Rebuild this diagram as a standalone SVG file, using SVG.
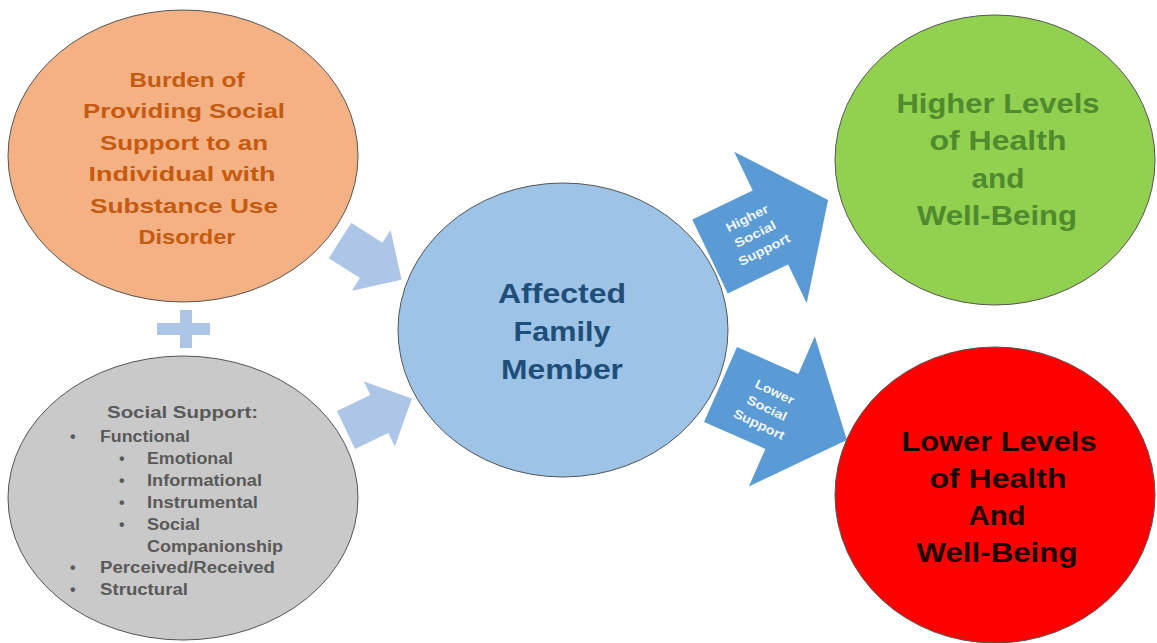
<svg xmlns="http://www.w3.org/2000/svg" width="1157" height="643" viewBox="0 0 1157 643">
  <style>
    .node { stroke: #555555; stroke-width: 1; }
    .t { font-family: "Liberation Sans", Arial, sans-serif; font-weight: bold; }
    .orange { fill: #C55A11; font-size: 21px; text-anchor: middle; }
    .gray { fill: #595959; font-size: 16px; }
    .blue { fill: #1F4E79; font-size: 27px; text-anchor: middle; }
    .green { fill: #4F8A2E; font-size: 27px; text-anchor: middle; }
    .red { fill: #1A0000; font-size: 27px; text-anchor: middle; }
    .lbl { fill: #F2F6FC; font-size: 12.5px; text-anchor: middle; }
    .light { fill: #ADC5E7; }
    .dark { fill: #5B9BD5; }
  </style>
  <defs>
    <!-- small input arrow, pointing along +x from its tail -->
    <polygon id="inArrow" points="0,-21 37,-21 37,-36 73,0 37,36 37,21 0,21"/>
  </defs>
  <rect width="1157" height="643" fill="#FFFFFF"/>

  <!-- connectors -->
  <g id="connectors">
    <use href="#inArrow" class="light" transform="translate(340,240.5) rotate(32.5)"/>
    <use href="#inArrow" class="light" transform="translate(346,430) rotate(-25.5)"/>
    <g id="plus" class="light">
      <rect x="157" y="323" width="53" height="12"/>
      <rect x="180" y="310" width="12" height="38"/>
    </g>
    <g id="arrow-higher">
      <polygon class="dark" points="0,-41 67,-41 67,-84 131,0 67,84 67,41 0,41" transform="translate(710,256.5) rotate(-25.6)"/>
      <g transform="translate(755,234) rotate(-26.6)">
        <text class="t lbl" x="0" y="-13.5" textLength="46" lengthAdjust="spacingAndGlyphs">Higher</text>
        <text class="t lbl" x="0" y="4.5" textLength="45" lengthAdjust="spacingAndGlyphs">Social</text>
        <text class="t lbl" x="1" y="22.5" textLength="56" lengthAdjust="spacingAndGlyphs">Support</text>
      </g>
    </g>
    <g id="arrow-lower">
      <polygon class="dark" points="0,-41 67,-41 67,-82 138,0 67,82 67,41 0,41" transform="translate(720.5,384.5) rotate(23.7)"/>
      <g transform="translate(767,408) rotate(25.6)">
        <text class="t lbl" x="0" y="-13.5" textLength="42" lengthAdjust="spacingAndGlyphs">Lower</text>
        <text class="t lbl" x="0" y="4.5" textLength="43" lengthAdjust="spacingAndGlyphs">Social</text>
        <text class="t lbl" x="0" y="22.5" textLength="55" lengthAdjust="spacingAndGlyphs">Support</text>
      </g>
    </g>
  </g>

  <!-- burden node -->
  <g id="burden">
    <ellipse class="node" cx="183" cy="156" rx="175" ry="146" fill="#F4B183"/>
    <text class="t orange" x="187" y="87" textLength="115" lengthAdjust="spacingAndGlyphs">Burden of</text>
    <text class="t orange" x="184" y="118" textLength="202" lengthAdjust="spacingAndGlyphs">Providing Social</text>
    <text class="t orange" x="184" y="150" textLength="168" lengthAdjust="spacingAndGlyphs">Support to an</text>
    <text class="t orange" x="182" y="181" textLength="187" lengthAdjust="spacingAndGlyphs">Individual with</text>
    <text class="t orange" x="184" y="213" textLength="188" lengthAdjust="spacingAndGlyphs">Substance Use</text>
    <text class="t orange" x="187" y="244" textLength="97" lengthAdjust="spacingAndGlyphs">Disorder</text>
  </g>

  <!-- social support node -->
  <g id="social-support">
    <ellipse class="node" cx="183" cy="498" rx="175" ry="142" fill="#C9C9C9"/>
    <text class="t gray" x="107" y="418" font-size="17" textLength="151" lengthAdjust="spacingAndGlyphs">Social Support:</text>
    <text class="t gray" x="70" y="442">•</text>
    <text class="t gray" x="100" y="442" textLength="90" lengthAdjust="spacingAndGlyphs">Functional</text>
    <text class="t gray" x="119" y="464">•</text>
    <text class="t gray" x="147" y="464" textLength="86" lengthAdjust="spacingAndGlyphs">Emotional</text>
    <text class="t gray" x="119" y="486">•</text>
    <text class="t gray" x="147" y="486" textLength="115" lengthAdjust="spacingAndGlyphs">Informational</text>
    <text class="t gray" x="119" y="508">•</text>
    <text class="t gray" x="147" y="508" textLength="111" lengthAdjust="spacingAndGlyphs">Instrumental</text>
    <text class="t gray" x="119" y="530">•</text>
    <text class="t gray" x="147" y="530" textLength="53" lengthAdjust="spacingAndGlyphs">Social</text>
    <text class="t gray" x="147" y="552" textLength="136" lengthAdjust="spacingAndGlyphs">Companionship</text>
    <text class="t gray" x="70" y="573">•</text>
    <text class="t gray" x="100" y="573" textLength="175" lengthAdjust="spacingAndGlyphs">Perceived/Received</text>
    <text class="t gray" x="70" y="595">•</text>
    <text class="t gray" x="100" y="595" textLength="88" lengthAdjust="spacingAndGlyphs">Structural</text>
  </g>

  <!-- central node -->
  <g id="affected-member">
    <ellipse class="node" cx="563" cy="330" rx="165" ry="147" fill="#9DC3E6"/>
    <text class="t blue" x="562" y="303" textLength="128" lengthAdjust="spacingAndGlyphs">Affected</text>
    <text class="t blue" x="562" y="341" textLength="97" lengthAdjust="spacingAndGlyphs">Family</text>
    <text class="t blue" x="562" y="379" textLength="122" lengthAdjust="spacingAndGlyphs">Member</text>
  </g>

  <!-- outcome nodes -->
  <g id="higher-health">
    <ellipse class="node" cx="995" cy="160" rx="160" ry="145" fill="#92D050"/>
    <text class="t green" x="998" y="113" textLength="203" lengthAdjust="spacingAndGlyphs">Higher Levels</text>
    <text class="t green" x="998" y="150" textLength="137" lengthAdjust="spacingAndGlyphs">of Health</text>
    <text class="t green" x="998" y="188" textLength="53" lengthAdjust="spacingAndGlyphs">and</text>
    <text class="t green" x="997" y="225" textLength="160" lengthAdjust="spacingAndGlyphs">Well-Being</text>
  </g>

  <g id="lower-health">
    <ellipse class="node" cx="995" cy="495" rx="160" ry="148" fill="#FF0000"/>
    <text class="t red" x="999" y="451" textLength="195" lengthAdjust="spacingAndGlyphs">Lower Levels</text>
    <text class="t red" x="998" y="488" textLength="137" lengthAdjust="spacingAndGlyphs">of Health</text>
    <text class="t red" x="997" y="525" textLength="57" lengthAdjust="spacingAndGlyphs">And</text>
    <text class="t red" x="997" y="562" textLength="161" lengthAdjust="spacingAndGlyphs">Well-Being</text>
  </g>
</svg>
